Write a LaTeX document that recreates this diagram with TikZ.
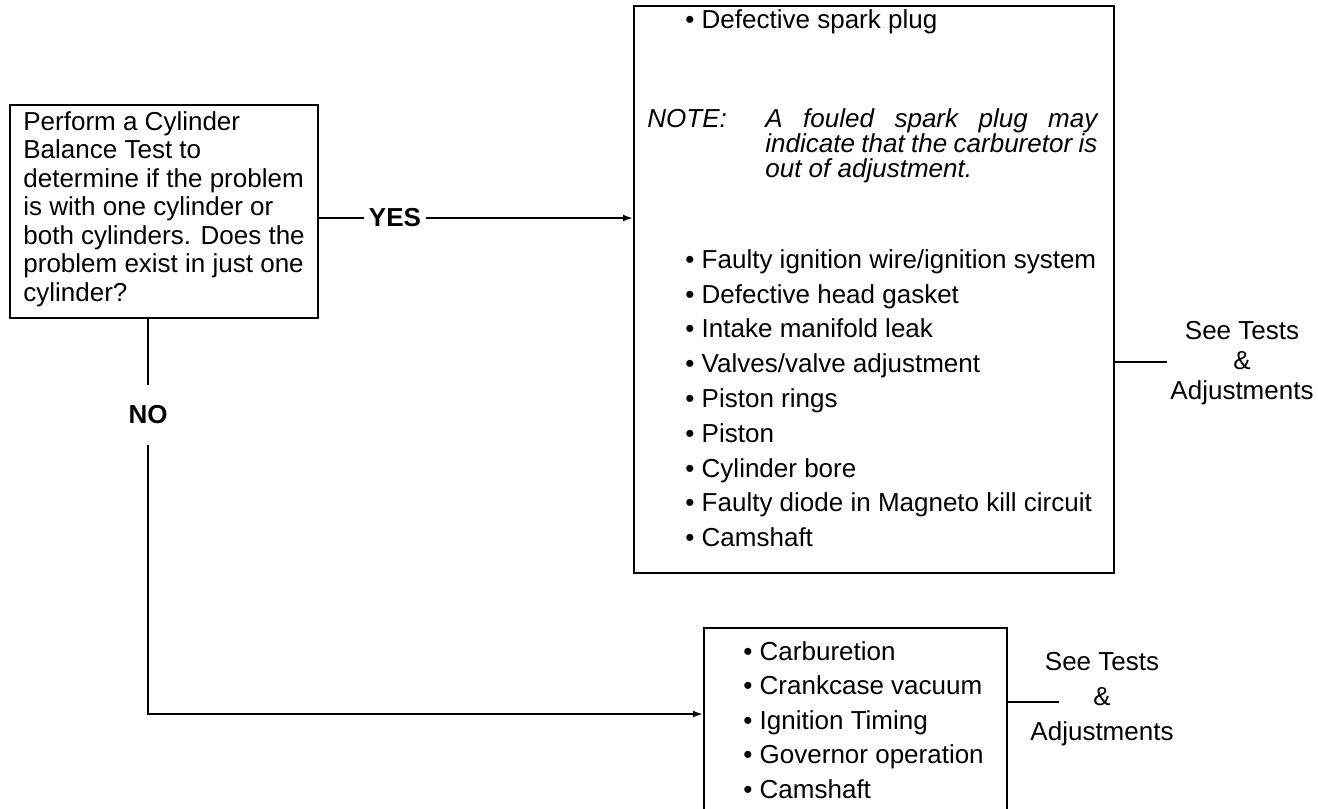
\documentclass[tikz,border=0pt]{standalone}
\usepackage{fontspec}
\setmainfont{Liberation Sans}
\usetikzlibrary{arrows.meta}

\begin{document}
\begin{tikzpicture}[x=0.5pt, y=-0.5pt,
        every node/.style={font=\fontsize{13}{17.4}\selectfont},
        box/.style={rectangle, draw=black, line width=1.2pt, inner sep=0pt},
        txt/.style={inner sep=0pt, anchor=base west, align=left},
        list/.style={inner sep=0pt, anchor=north west, align=left},
        tag/.style={font=\fontsize{13}{15}\selectfont\bfseries, inner xsep=2.5pt},
        see/.style={inner sep=0pt, align=center},
        line/.style={line width=1pt},
        arrow/.style={line, -{Latex[length=5pt, width=3.5pt]}}
    ]
        \useasboundingbox (0,0) rectangle (1318,809);

        % question
        \node[box, minimum width=154pt, minimum height=106.5pt, anchor=north west] (q) at (9,104) {};
        \node[list, font=\fontsize{13}{14.25}\selectfont] (qtext) at (23,111) {Perform a Cylinder\\ Balance Test to\\ determine if the problem\\ is with one cylinder or\\ both cylinders. Does the\\ problem exist in just one\\ cylinder?};

        % yes branch
        \node[box, minimum width=240pt, minimum height=283.5pt, anchor=north west] (big) at (633,5) {};
        \node[txt] (plug) at (685,28) {• Defective spark plug};
        \node[txt, font=\fontsize{13}{12.5}\selectfont\itshape] (note) at (647,127) {NOTE:};
        \node[txt, text width=166pt, align=justify, font=\fontsize{13}{12.5}\selectfont\itshape] (notetext) at (765,127) {A fouled spark plug may\linebreak indicate that the carburetor is\linebreak out of adjustment.};
        \node[list] (causes) at (685,249) {• Faulty ignition wire/ignition system\\ • Defective head gasket\\ • Intake manifold leak\\ • Valves/valve adjustment\\ • Piston rings\\ • Piston\\ • Cylinder bore\\ • Faulty diode in Magneto kill circuit\\ • Camshaft};

        \node[tag] (yes) at (395,218) {YES};
        \draw[line] (yes.west -| q.east) -- (yes.west);
        \draw[arrow] (yes.east) -- (yes.east -| big.west);

        \node[see, font=\fontsize{13}{15}\selectfont] (see1) at (1242,363) {See Tests\\ \&\\ Adjustments};
        \coordinate (see1in) at (1167,362);
        \draw[line] (see1in -| big.east) -- (see1in);

        % no branch
        \node[tag, minimum height=30pt] (no) at (148,415) {NO};
        \draw[line] (q.south -| no) -- (no.north);

        \node[box, minimum width=151.5pt, minimum height=110pt, anchor=north west] (small) at (703,627) {};
        \node[list, font=\fontsize{13}{17.25}\selectfont] (checks) at (743,641) {• Carburetion\\ • Crankcase vacuum\\ • Ignition Timing\\ • Governor operation\\ • Camshaft};
        \coordinate (smallin) at (703,714);
        \draw[arrow] (no.south) |- (smallin);

        \node[see, font=\fontsize{13}{17.5}\selectfont] (see2) at (1102,699) {See Tests\\ \&\\ Adjustments};
        \coordinate (see2in) at (1059,702);
        \draw[line] (see2in -| small.east) -- (see2in);
    \end{tikzpicture}
\end{document}
